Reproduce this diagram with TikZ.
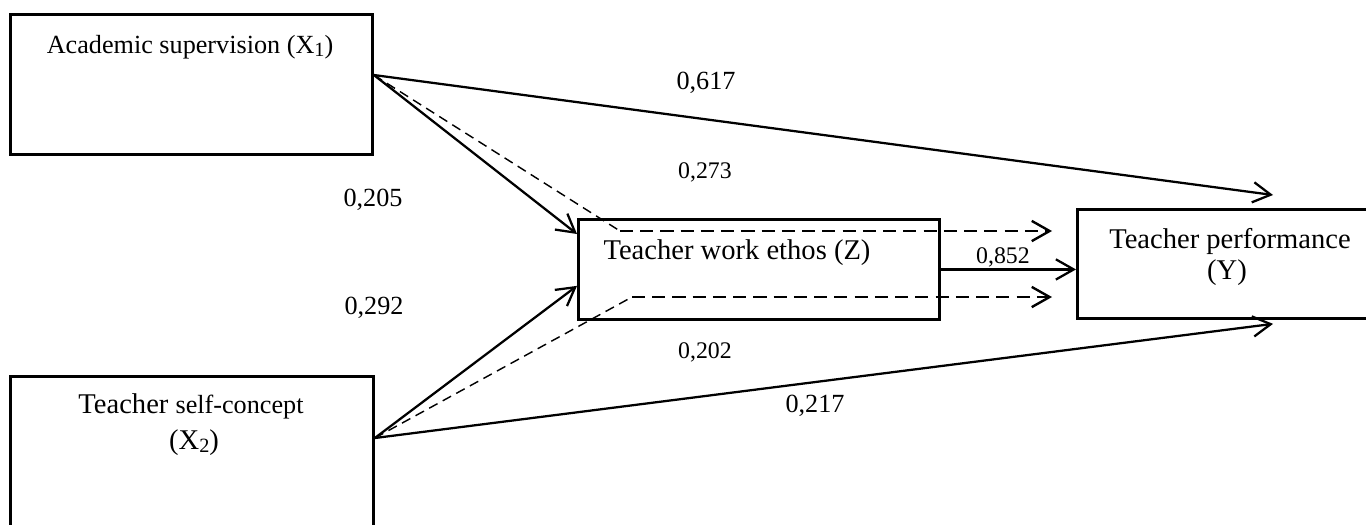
\documentclass[tikz,border=0pt]{standalone}
\usepackage{fontspec}
\setmainfont{Liberation Serif}
\usetikzlibrary{arrows.meta,calc}

\newcommand{\pxlen}{0.42pt}
\newcommand{\lowsub}[1]{\raisebox{-0.3ex}{\fontsize{8.5}{10}\selectfont #1}}

\begin{document}
\begin{tikzpicture}[x=0.42pt,y=-0.42pt,>={Straight Barb[length=7.5pt,width=8.5pt]},
  varbox/.style={draw,line width=1.2pt,anchor=north west,inner sep=0pt},
  boxtext/.style={anchor=base,inner sep=0pt,font=\fontsize{12}{14}\selectfont},
  coef/.style={anchor=base,inner sep=0pt,font=\fontsize{11}{13}\selectfont},
  smallcoef/.style={coef,font=\fontsize{10}{12}\selectfont},
  arr/.style={->,line width=0.95pt},
  thindash/.style={line width=0.6pt,dash pattern=on 4pt off 2.5pt},
  thickdash/.style={->,line width=1pt,dash pattern=on 5.5pt off 3pt}]
\useasboundingbox (0,0) rectangle (1366,524);
\clip (0,0) rectangle (1366,524);

% variable boxes
\node[varbox,minimum width=362*\pxlen,minimum height=140*\pxlen] (x1) at (9,13) {};
\node[varbox,minimum width=363*\pxlen,minimum height=170*\pxlen] (x2) at (9,375) {};
\node[varbox,minimum width=361*\pxlen,minimum height=100*\pxlen] (z) at (577,218) {};
\node[varbox,minimum width=320*\pxlen,minimum height=109*\pxlen] (y) at (1076,208) {};

\node[boxtext,font=\fontsize{11}{13}\selectfont] (x1lab) at (190,53)
  {Academic supervision (X\lowsub{1})};
\node[boxtext] (x2lab) at (191,413) {Teacher {\fontsize{11}{13}\selectfont self-concept}};
\node[boxtext] (x2sub) at (194,449) {(X\lowsub{2})};
\node[boxtext] (zlab) at (737,259) {Teacher work ethos (Z)};
\node[boxtext] (ylab) at (1230,248) {Teacher performance};
\node[boxtext] (ysub) at (1227,279) {(Y)};

% end points on the box sides
\coordinate (x1out) at ($(x1.north east)+(0,62)$);
\coordinate (x2out) at ($(x2.north east)+(0,63)$);
\coordinate (zin1) at ($(z.north west)+(0,16)$);
\coordinate (zin2) at ($(z.south west)+(0,-35)$);
\coordinate (yin1) at ($(y.north west)+(197,-13)$);
\coordinate (yin2) at ($(y.south west)+(197,4)$);
\coordinate (k1) at (620,231);
\coordinate (e1) at (1052,231);
\coordinate (k2) at (632,297);
\coordinate (e2) at (1052,297);

% direct paths
\draw[arr] (x1out) -- (yin1);
\draw[arr] (x1out) -- (zin1);
\draw[arr] (x2out) -- (zin2);
\draw[arr] (x2out) -- (yin2);
\draw[arr] (z.east) -- (z.east -| y.west);

% indirect paths through Z
\draw[thindash] (x1out) -- (k1);
\draw[thickdash] (k1) -- (e1);
\draw[thindash] (x2out) -- (k2);
\draw[thickdash] (k2) -- (e2);

% coefficients
\node[coef] (c617) at (706,89) {0,617};
\node[smallcoef] (c273) at (705,178) {0,273};
\node[coef] (c205) at (373,206) {0,205};
\node[coef] (c292) at (374,314) {0,292};
\node[smallcoef] (c852) at (1003,263) {0,852};
\node[smallcoef] (c202) at (705,358) {0,202};
\node[coef] (c217) at (815,412) {0,217};
\end{tikzpicture}
\end{document}
